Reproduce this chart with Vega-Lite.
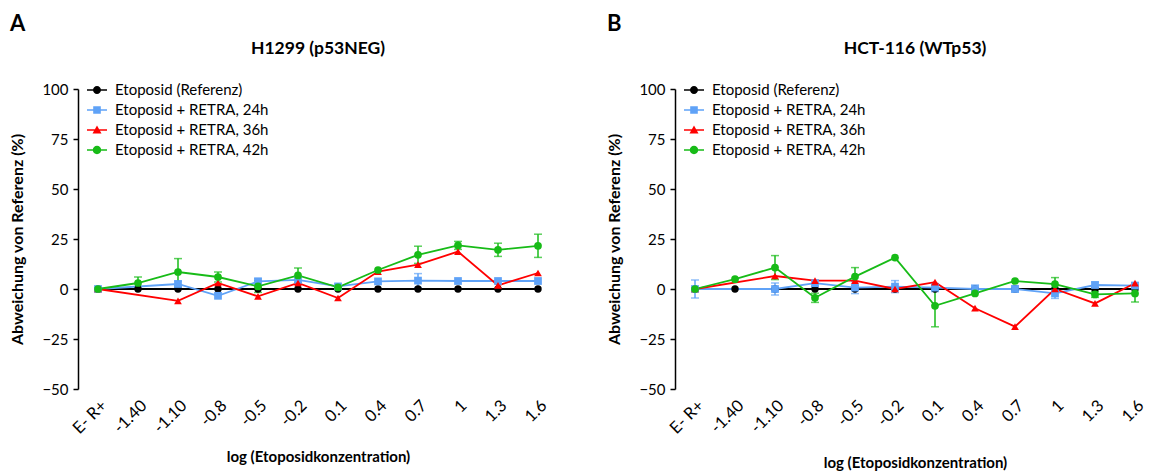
{
  "$schema": "https://vega.github.io/schema/vega-lite/v6.json",
  "padding": {"left": 9, "top": 12, "right": 0, "bottom": 0},
  "config": {
    "font": "Lato",
    "view": {"stroke": null},
    "title": {"font": "Lato", "color": "black"},
    "axis": {"labelFont": "Lato", "titleFont": "Lato", "labelColor": "black", "titleColor": "black", "grid": false},
    "legend": {"labelFont": "Lato", "labelColor": "black"}
  },
  "datasets": {
    "h1299": [
      {"konz": "E- R+", "reihe": "Etoposid (Referenz)", "wert": 0},
      {"konz": "-1.40", "reihe": "Etoposid (Referenz)", "wert": 0},
      {"konz": "-1.10", "reihe": "Etoposid (Referenz)", "wert": 0},
      {"konz": "-0.8", "reihe": "Etoposid (Referenz)", "wert": 0},
      {"konz": "-0.5", "reihe": "Etoposid (Referenz)", "wert": 0},
      {"konz": "-0.2", "reihe": "Etoposid (Referenz)", "wert": 0},
      {"konz": "0.1", "reihe": "Etoposid (Referenz)", "wert": 0},
      {"konz": "0.4", "reihe": "Etoposid (Referenz)", "wert": 0},
      {"konz": "0.7", "reihe": "Etoposid (Referenz)", "wert": 0},
      {"konz": "1", "reihe": "Etoposid (Referenz)", "wert": 0},
      {"konz": "1.3", "reihe": "Etoposid (Referenz)", "wert": 0},
      {"konz": "1.6", "reihe": "Etoposid (Referenz)", "wert": 0},
      {"konz": "E- R+", "reihe": "Etoposid + RETRA, 24h", "wert": 0},
      {"konz": "-1.10", "reihe": "Etoposid + RETRA, 24h", "wert": 2.5, "sd": 1.5},
      {"konz": "-0.8", "reihe": "Etoposid + RETRA, 24h", "wert": -3.4},
      {"konz": "-0.5", "reihe": "Etoposid + RETRA, 24h", "wert": 3.8, "sd": 1.5},
      {"konz": "-0.2", "reihe": "Etoposid + RETRA, 24h", "wert": 4.6},
      {"konz": "0.1", "reihe": "Etoposid + RETRA, 24h", "wert": 1.3},
      {"konz": "0.4", "reihe": "Etoposid + RETRA, 24h", "wert": 3.8},
      {"konz": "0.7", "reihe": "Etoposid + RETRA, 24h", "wert": 4.2, "sd": 3.5},
      {"konz": "1", "reihe": "Etoposid + RETRA, 24h", "wert": 4.0},
      {"konz": "1.3", "reihe": "Etoposid + RETRA, 24h", "wert": 4.0},
      {"konz": "1.6", "reihe": "Etoposid + RETRA, 24h", "wert": 4.0},
      {"konz": "E- R+", "reihe": "Etoposid + RETRA, 36h", "wert": 0},
      {"konz": "-1.10", "reihe": "Etoposid + RETRA, 36h", "wert": -5.9},
      {"konz": "-0.8", "reihe": "Etoposid + RETRA, 36h", "wert": 3.0},
      {"konz": "-0.5", "reihe": "Etoposid + RETRA, 36h", "wert": -3.7},
      {"konz": "-0.2", "reihe": "Etoposid + RETRA, 36h", "wert": 3.0},
      {"konz": "0.1", "reihe": "Etoposid + RETRA, 36h", "wert": -4.5},
      {"konz": "0.4", "reihe": "Etoposid + RETRA, 36h", "wert": 8.7},
      {"konz": "0.7", "reihe": "Etoposid + RETRA, 36h", "wert": 12.2},
      {"konz": "1", "reihe": "Etoposid + RETRA, 36h", "wert": 18.7},
      {"konz": "1.3", "reihe": "Etoposid + RETRA, 36h", "wert": 1.8},
      {"konz": "1.6", "reihe": "Etoposid + RETRA, 36h", "wert": 8.0},
      {"konz": "E- R+", "reihe": "Etoposid + RETRA, 42h", "wert": 0},
      {"konz": "-1.40", "reihe": "Etoposid + RETRA, 42h", "wert": 3.0, "sd": 3.0},
      {"konz": "-1.10", "reihe": "Etoposid + RETRA, 42h", "wert": 8.5, "sd": 6.7},
      {"konz": "-0.8", "reihe": "Etoposid + RETRA, 42h", "wert": 6.0, "sd": 2.5},
      {"konz": "-0.5", "reihe": "Etoposid + RETRA, 42h", "wert": 1.3, "sd": 3.0},
      {"konz": "-0.2", "reihe": "Etoposid + RETRA, 42h", "wert": 6.8, "sd": 3.7},
      {"konz": "0.1", "reihe": "Etoposid + RETRA, 42h", "wert": 0.8},
      {"konz": "0.4", "reihe": "Etoposid + RETRA, 42h", "wert": 9.5},
      {"konz": "0.7", "reihe": "Etoposid + RETRA, 42h", "wert": 17.1, "sd": 4.3},
      {"konz": "1", "reihe": "Etoposid + RETRA, 42h", "wert": 21.8, "sd": 2.0},
      {"konz": "1.3", "reihe": "Etoposid + RETRA, 42h", "wert": 19.6, "sd": 3.3},
      {"konz": "1.6", "reihe": "Etoposid + RETRA, 42h", "wert": 21.6, "sd": 5.8}
    ],
    "hct116": [
      {"konz": "E- R+", "reihe": "Etoposid (Referenz)", "wert": 0},
      {"konz": "-1.40", "reihe": "Etoposid (Referenz)", "wert": 0},
      {"konz": "-1.10", "reihe": "Etoposid (Referenz)", "wert": 0},
      {"konz": "-0.8", "reihe": "Etoposid (Referenz)", "wert": 0},
      {"konz": "-0.5", "reihe": "Etoposid (Referenz)", "wert": 0},
      {"konz": "-0.2", "reihe": "Etoposid (Referenz)", "wert": 0},
      {"konz": "0.1", "reihe": "Etoposid (Referenz)", "wert": 0},
      {"konz": "0.4", "reihe": "Etoposid (Referenz)", "wert": 0},
      {"konz": "0.7", "reihe": "Etoposid (Referenz)", "wert": 0},
      {"konz": "1", "reihe": "Etoposid (Referenz)", "wert": 0},
      {"konz": "1.3", "reihe": "Etoposid (Referenz)", "wert": 0},
      {"konz": "1.6", "reihe": "Etoposid (Referenz)", "wert": 0},
      {"konz": "E- R+", "reihe": "Etoposid + RETRA, 24h", "wert": 0, "sd": 4.5},
      {"konz": "-1.10", "reihe": "Etoposid + RETRA, 24h", "wert": 0, "sd": 3.0},
      {"konz": "-0.8", "reihe": "Etoposid + RETRA, 24h", "wert": 2.9, "sd": 1.5},
      {"konz": "-0.5", "reihe": "Etoposid + RETRA, 24h", "wert": 0.7, "sd": 3.0},
      {"konz": "-0.2", "reihe": "Etoposid + RETRA, 24h", "wert": 1.2, "sd": 3.0},
      {"konz": "0.1", "reihe": "Etoposid + RETRA, 24h", "wert": 0.7, "sd": 2.0},
      {"konz": "0.4", "reihe": "Etoposid + RETRA, 24h", "wert": 0, "sd": 2.0},
      {"konz": "0.7", "reihe": "Etoposid + RETRA, 24h", "wert": 0, "sd": 1.5},
      {"konz": "1", "reihe": "Etoposid + RETRA, 24h", "wert": -2.2, "sd": 2.5},
      {"konz": "1.3", "reihe": "Etoposid + RETRA, 24h", "wert": 2.0, "sd": 1.5},
      {"konz": "1.6", "reihe": "Etoposid + RETRA, 24h", "wert": 1.7, "sd": 1.5},
      {"konz": "E- R+", "reihe": "Etoposid + RETRA, 36h", "wert": 0},
      {"konz": "-1.10", "reihe": "Etoposid + RETRA, 36h", "wert": 6.5},
      {"konz": "-0.8", "reihe": "Etoposid + RETRA, 36h", "wert": 4.2},
      {"konz": "-0.5", "reihe": "Etoposid + RETRA, 36h", "wert": 4.2},
      {"konz": "-0.2", "reihe": "Etoposid + RETRA, 36h", "wert": 0},
      {"konz": "0.1", "reihe": "Etoposid + RETRA, 36h", "wert": 3.4},
      {"konz": "0.4", "reihe": "Etoposid + RETRA, 36h", "wert": -9.6},
      {"konz": "0.7", "reihe": "Etoposid + RETRA, 36h", "wert": -18.8},
      {"konz": "1", "reihe": "Etoposid + RETRA, 36h", "wert": 0},
      {"konz": "1.3", "reihe": "Etoposid + RETRA, 36h", "wert": -7.2},
      {"konz": "1.6", "reihe": "Etoposid + RETRA, 36h", "wert": 2.9},
      {"konz": "E- R+", "reihe": "Etoposid + RETRA, 42h", "wert": 0},
      {"konz": "-1.40", "reihe": "Etoposid + RETRA, 42h", "wert": 4.9},
      {"konz": "-1.10", "reihe": "Etoposid + RETRA, 42h", "wert": 10.7, "sd": 6.0},
      {"konz": "-0.8", "reihe": "Etoposid + RETRA, 42h", "wert": -4.4, "sd": 2.3},
      {"konz": "-0.5", "reihe": "Etoposid + RETRA, 42h", "wert": 6.2, "sd": 4.5},
      {"konz": "-0.2", "reihe": "Etoposid + RETRA, 42h", "wert": 15.7},
      {"konz": "0.1", "reihe": "Etoposid + RETRA, 42h", "wert": -8.4, "sd": 10.5},
      {"konz": "0.4", "reihe": "Etoposid + RETRA, 42h", "wert": -2.2},
      {"konz": "0.7", "reihe": "Etoposid + RETRA, 42h", "wert": 4.0},
      {"konz": "1", "reihe": "Etoposid + RETRA, 42h", "wert": 2.4, "sd": 3.3},
      {"konz": "1.3", "reihe": "Etoposid + RETRA, 42h", "wert": -2.7, "sd": 1.5},
      {"konz": "1.6", "reihe": "Etoposid + RETRA, 42h", "wert": -2.2, "sd": 4.3}
    ]
  },
  "spacing": 48,
  "resolve": {"scale": {"fill": "independent", "shape": "independent"}},
  "hconcat": [
    {
      "title": {"text": "A", "anchor": "start", "fontSize": 22, "fontWeight": "bold", "offset": 4},
      "vconcat": [
        {
          "title": {"text": "H1299 (p53NEG)", "fontSize": 17.5, "fontWeight": "bold", "offset": 25},
          "width": 480,
          "height": 300,
          "data": {"name": "h1299"},
          "encoding": {
            "x": {
              "field": "konz", "type": "ordinal",
              "sort": ["E- R+", "-1.40", "-1.10", "-0.8", "-0.5", "-0.2", "0.1", "0.4", "0.7", "1", "1.3", "1.6"],
              "scale": {"type": "point", "padding": 0.5},
              "title": "log (Etoposidkonzentration)",
              "axis": {"labelAngle": -45, "domain": false, "ticks": false, "labelFontSize": 16.5, "labelPadding": 8, "titleFontSize": 15, "titleFontWeight": "bold", "titlePadding": 13}
            },
            "y": {
              "field": "wert", "type": "quantitative",
              "scale": {"domain": [-50, 100], "nice": false, "zero": false},
              "title": "Abweichung von  Referenz (%)",
              "axis": {"values": [-50, -25, 0, 25, 50, 75, 100], "domainColor": "black", "domainWidth": 1.5, "tickColor": "black", "tickWidth": 1.5, "tickSize": 5, "labelFontSize": 15, "labelPadding": 5, "titleFontSize": 16, "titleFontWeight": "bold", "titlePadding": 16}
            }
          },
          "layer": [
            {
              "data": {"values": [{}]},
              "mark": {"type": "rule", "color": "black", "strokeWidth": 2},
              "encoding": {"x": null, "y": {"datum": 0, "type": "quantitative"}}
            },
            {
              "transform": [{"filter": "isValid(datum.sd)"}],
              "mark": {"type": "errorbar", "thickness": 1.5, "ticks": {"size": 8, "thickness": 1.5}},
              "encoding": {
                "yError": {"field": "sd"},
                "color": {"field": "reihe", "type": "nominal", "legend": null,
                  "scale": {"domain": ["Etoposid (Referenz)", "Etoposid + RETRA, 24h", "Etoposid + RETRA, 36h", "Etoposid + RETRA, 42h"], "range": ["#000000", "#5fa2f7", "#ff0000", "#17bb17"]}}
              }
            },
            {
              "mark": {"type": "line", "strokeWidth": 1.8},
              "encoding": {
                "order": {"value": null},
                "color": {"field": "reihe", "type": "nominal", "legend": null}
              }
            },
            {
              "transform": [{"filter": "datum.reihe === 'Etoposid (Referenz)'"}],
              "mark": {"type": "circle", "size": 55, "opacity": 1},
              "encoding": {"color": {"field": "reihe", "type": "nominal", "legend": null}}
            },
            {
              "transform": [{"filter": "datum.reihe === 'Etoposid + RETRA, 24h'"}],
              "mark": {"type": "square", "size": 60, "opacity": 1},
              "encoding": {"color": {"field": "reihe", "type": "nominal", "legend": null}}
            },
            {
              "transform": [{"filter": "datum.reihe === 'Etoposid + RETRA, 36h'"}],
              "mark": {"type": "point", "shape": "triangle-up", "filled": true, "size": 60, "opacity": 1},
              "encoding": {"color": {"field": "reihe", "type": "nominal", "legend": null}}
            },
            {
              "transform": [{"filter": "datum.reihe === 'Etoposid + RETRA, 42h'"}],
              "mark": {"type": "circle", "size": 60, "opacity": 1},
              "encoding": {"color": {"field": "reihe", "type": "nominal", "legend": null}}
            },
            {
              "transform": [{"filter": "datum.wert > 1000"}],
              "mark": {"type": "point", "filled": true, "opacity": 1},
              "encoding": {
                "fill": {"field": "reihe", "type": "nominal",
                  "scale": {"domain": ["Etoposid (Referenz)", "Etoposid + RETRA, 24h", "Etoposid + RETRA, 36h", "Etoposid + RETRA, 42h"], "range": ["#000000", "#5fa2f7", "#ff0000", "#17bb17"]},
                  "legend": {"title": null, "orient": "none", "legendX": 9, "legendY": -9, "symbolSize": 400, "symbolStrokeWidth": 0, "symbolOpacity": 1, "labelFontSize": 15, "labelOffset": 8, "rowPadding": 2, "padding": 0, "labelLimit": 400}},
                "shape": {"field": "reihe", "type": "nominal",
                  "scale": {"domain": ["Etoposid (Referenz)", "Etoposid + RETRA, 24h", "Etoposid + RETRA, 36h", "Etoposid + RETRA, 42h"],
                    "range": [
                      "M-1,-0.08H1V0.08H-1Z M-0.4,0A0.4,0.4,0,1,1,0.4,0A0.4,0.4,0,1,1,-0.4,0Z",
                      "M-1,-0.08H1V0.08H-1Z M-0.38,-0.38H0.38V0.38H-0.38Z",
                      "M-1,-0.08H1V0.08H-1Z M0,-0.45L0.45,0.35H-0.45Z",
                      "M-1,-0.08H1V0.08H-1Z M-0.42,0A0.42,0.42,0,1,1,0.42,0A0.42,0.42,0,1,1,-0.42,0Z"
                    ]},
                  "legend": {"title": null, "orient": "none", "legendX": 9, "legendY": -9, "symbolSize": 400, "symbolStrokeWidth": 0, "symbolOpacity": 1, "labelFontSize": 15, "labelOffset": 8, "rowPadding": 2, "padding": 0, "labelLimit": 400}}
              }
            }
          ]
        }
      ]
    },
    {
      "title": {"text": "B", "anchor": "start", "fontSize": 22, "fontWeight": "bold", "offset": 4},
      "vconcat": [
        {
          "title": {"text": "HCT-116 (WTp53)", "fontSize": 17.5, "fontWeight": "bold", "offset": 25},
          "width": 480,
          "height": 300,
          "data": {"name": "hct116"},
          "encoding": {
            "x": {
              "field": "konz", "type": "ordinal",
              "sort": ["E- R+", "-1.40", "-1.10", "-0.8", "-0.5", "-0.2", "0.1", "0.4", "0.7", "1", "1.3", "1.6"],
              "scale": {"type": "point", "padding": 0.5},
              "title": "log (Etoposidkonzentration)",
              "axis": {"labelAngle": -45, "domain": false, "ticks": false, "labelFontSize": 16.5, "labelPadding": 8, "titleFontSize": 15, "titleFontWeight": "bold", "titlePadding": 19}
            },
            "y": {
              "field": "wert", "type": "quantitative",
              "scale": {"domain": [-50, 100], "nice": false, "zero": false},
              "title": "Abweichung von  Referenz (%)",
              "axis": {"values": [-50, -25, 0, 25, 50, 75, 100], "domainColor": "black", "domainWidth": 1.5, "tickColor": "black", "tickWidth": 1.5, "tickSize": 5, "labelFontSize": 15, "labelPadding": 5, "titleFontSize": 16, "titleFontWeight": "bold", "titlePadding": 16}
            }
          },
          "layer": [
            {
              "data": {"values": [{}]},
              "mark": {"type": "rule", "color": "black", "strokeWidth": 2},
              "encoding": {"x": null, "y": {"datum": 0, "type": "quantitative"}}
            },
            {
              "transform": [{"filter": "isValid(datum.sd)"}],
              "mark": {"type": "errorbar", "thickness": 1.5, "ticks": {"size": 8, "thickness": 1.5}},
              "encoding": {
                "yError": {"field": "sd"},
                "color": {"field": "reihe", "type": "nominal", "legend": null,
                  "scale": {"domain": ["Etoposid (Referenz)", "Etoposid + RETRA, 24h", "Etoposid + RETRA, 36h", "Etoposid + RETRA, 42h"], "range": ["#000000", "#5fa2f7", "#ff0000", "#17bb17"]}}
              }
            },
            {
              "mark": {"type": "line", "strokeWidth": 1.8},
              "encoding": {
                "order": {"value": null},
                "color": {"field": "reihe", "type": "nominal", "legend": null}
              }
            },
            {
              "transform": [{"filter": "datum.reihe === 'Etoposid (Referenz)'"}],
              "mark": {"type": "circle", "size": 55, "opacity": 1},
              "encoding": {"color": {"field": "reihe", "type": "nominal", "legend": null}}
            },
            {
              "transform": [{"filter": "datum.reihe === 'Etoposid + RETRA, 24h'"}],
              "mark": {"type": "square", "size": 60, "opacity": 1},
              "encoding": {"color": {"field": "reihe", "type": "nominal", "legend": null}}
            },
            {
              "transform": [{"filter": "datum.reihe === 'Etoposid + RETRA, 36h'"}],
              "mark": {"type": "point", "shape": "triangle-up", "filled": true, "size": 60, "opacity": 1},
              "encoding": {"color": {"field": "reihe", "type": "nominal", "legend": null}}
            },
            {
              "transform": [{"filter": "datum.reihe === 'Etoposid + RETRA, 42h'"}],
              "mark": {"type": "circle", "size": 60, "opacity": 1},
              "encoding": {"color": {"field": "reihe", "type": "nominal", "legend": null}}
            },
            {
              "transform": [{"filter": "datum.wert > 1000"}],
              "mark": {"type": "point", "filled": true, "opacity": 1},
              "encoding": {
                "fill": {"field": "reihe", "type": "nominal",
                  "scale": {"domain": ["Etoposid (Referenz)", "Etoposid + RETRA, 24h", "Etoposid + RETRA, 36h", "Etoposid + RETRA, 42h"], "range": ["#000000", "#5fa2f7", "#ff0000", "#17bb17"]},
                  "legend": {"title": null, "orient": "none", "legendX": 9, "legendY": -9, "symbolSize": 400, "symbolStrokeWidth": 0, "symbolOpacity": 1, "labelFontSize": 15, "labelOffset": 8, "rowPadding": 2, "padding": 0, "labelLimit": 400}},
                "shape": {"field": "reihe", "type": "nominal",
                  "scale": {"domain": ["Etoposid (Referenz)", "Etoposid + RETRA, 24h", "Etoposid + RETRA, 36h", "Etoposid + RETRA, 42h"],
                    "range": [
                      "M-1,-0.08H1V0.08H-1Z M-0.4,0A0.4,0.4,0,1,1,0.4,0A0.4,0.4,0,1,1,-0.4,0Z",
                      "M-1,-0.08H1V0.08H-1Z M-0.38,-0.38H0.38V0.38H-0.38Z",
                      "M-1,-0.08H1V0.08H-1Z M0,-0.45L0.45,0.35H-0.45Z",
                      "M-1,-0.08H1V0.08H-1Z M-0.42,0A0.42,0.42,0,1,1,0.42,0A0.42,0.42,0,1,1,-0.42,0Z"
                    ]},
                  "legend": {"title": null, "orient": "none", "legendX": 9, "legendY": -9, "symbolSize": 400, "symbolStrokeWidth": 0, "symbolOpacity": 1, "labelFontSize": 15, "labelOffset": 8, "rowPadding": 2, "padding": 0, "labelLimit": 400}}
              }
            }
          ]
        }
      ]
    }
  ]
}
